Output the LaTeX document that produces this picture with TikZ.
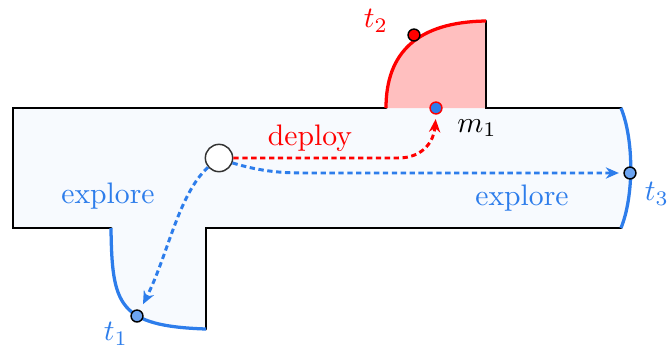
\documentclass[tikz,border=0pt]{standalone}
\usetikzlibrary{arrows.meta, positioning}
\definecolor{expblue}{RGB}{45,125,235}

\begin{document}
\begin{tikzpicture}[
    x=0.337pt, y=-0.337pt,
    >={Stealth[length=4.4pt, width=3.8pt]},
    wall/.style    ={line width=1pt, black, line cap=round},
    bfront/.style  ={line width=1.1pt, expblue},
    rfront/.style  ={line width=1.1pt, red},
    fdot/.style    ={circle, draw=black, line width=0.5pt, inner sep=0pt, minimum size=4pt},
    robot/.style   ={circle, draw=black!80, fill=white, line width=0.5pt, inner sep=0pt, minimum size=9.2pt},
    bluetxt/.style ={text=expblue, inner sep=0pt},
    redtxt/.style  ={text=red, inner sep=0pt},
    explarr/.style ={->, expblue, line width=1pt, dash pattern=on 1.8pt off 1.2pt},
    deplarr/.style ={->, red, line width=1pt, dash pattern=on 1.8pt off 1.2pt},
]
\useasboundingbox (0,0) rectangle (670,351);
% explored region and the room still to deploy into
\fill[expblue!4] (13,108) -- (621,108) .. controls (634,140) and (634,196) .. (621,228)
    -- (206,228) -- (206,329) .. controls (118,326) and (112,305) .. (111,228)
    -- (13,228) -- cycle;
\fill[red!25] (386,108) .. controls (386,52) and (418,22) .. (486,21) -- (486,108) -- cycle;
% walls
\draw[wall] (386,108) -- (13,108) -- (13,228) -- (111,228);
\draw[wall] (206,329) -- (206,228) -- (621,228);
\draw[wall] (486,21) -- (486,108) -- (621,108);
% frontiers
\draw[bfront] (621,108) .. controls (634,140) and (634,196) .. (621,228);
\draw[bfront] (111,228) .. controls (112,305) and (118,326) .. (206,329);
\draw[rfront] (386,108) .. controls (386,52) and (418,22) .. (486,21);

\node[robot] (rob) at (219,158) {};
\node[fdot, fill=red] (t2) at (414,35) {};
\node[fdot, fill=expblue!70] (t1) at (137,316) {};
\node[fdot, fill=expblue!70] (t3) at (630,173) {};
\node[fdot, draw=red, fill=expblue] (m1) at (436,108) {};

\node[redtxt]  (lt2) at (376,21)  {$t_2$};
\node[bluetxt] (lt1) at (116,334) {$t_1$};
\node[bluetxt] (lt3) at (657,194) {$t_3$};
\node[inner sep=0pt] (lm1) at (477,128) {$m_1$};
\node[redtxt]  (ldep) at (310,138) {deploy};
\node[bluetxt] (lexl) at (108,196) {explore};
\node[bluetxt] (lexr) at (522,198) {explore};

\draw[deplarr, shorten >=1.5pt] (rob.east) -- (398,158) .. controls (424,158) and (434,140) .. (m1.south);
\draw[explarr, shorten >=1.5pt] (rob.-20) .. controls (262,172) and (285,173) .. (305,173) -- (t3.west);
\draw[explarr, shorten >=2.2pt] (rob.-140) .. controls (178,195) and (168,255) .. (t1);
\end{tikzpicture}
\end{document}
